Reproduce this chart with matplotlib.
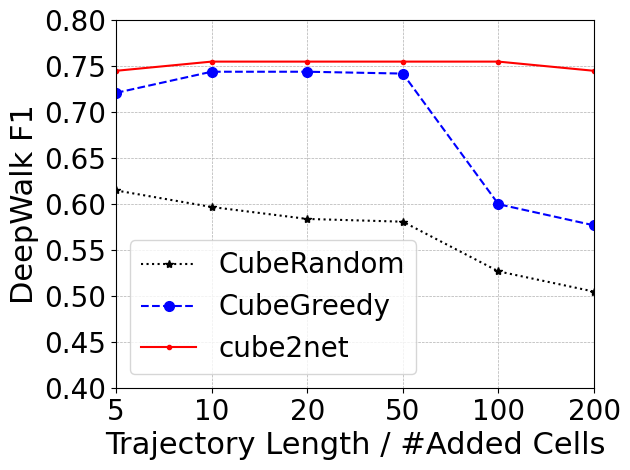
import matplotlib
matplotlib.use('Agg')
import matplotlib.pyplot as plt

x_labels = ['5', '10', '20', '50', '100', '200']
cube_random = [0.615, 0.597, 0.584, 0.581, 0.527, 0.505]
cube_greedy = [0.721, 0.744, 0.744, 0.742, 0.600, 0.577]
cube2net = [0.745, 0.755, 0.755, 0.755, 0.755, 0.745]

xs = list(range(len(x_labels)))

fig, ax = plt.subplots(figsize=(6.3, 4.7), dpi=100)
ax.plot(xs, cube_random, 'k:*', label='CubeRandom', markersize=6)
ax.plot(xs, cube_greedy, 'b--o', label='CubeGreedy', markersize=7)
ax.plot(xs, cube2net, 'r-.', label='cube2net', marker='.', linestyle='-', markersize=6)

ax.set_xlim(0, len(xs) - 1)
ax.set_ylim(0.40, 0.80)
ax.set_xticks(xs)
ax.set_xticklabels(x_labels)
ax.set_yticks([0.40, 0.45, 0.50, 0.55, 0.60, 0.65, 0.70, 0.75, 0.80])
ax.tick_params(labelsize=20)
ax.set_xlabel('Trajectory Length / #Added Cells', fontsize=22)
ax.set_ylabel('DeepWalk F1', fontsize=22)
ax.grid(True, linestyle='--', linewidth=0.5)
ax.legend(fontsize=20, loc='lower left')
fig.subplots_adjust(left=0.184, right=0.943, top=0.957, bottom=0.174)
fig.savefig('out.png')
